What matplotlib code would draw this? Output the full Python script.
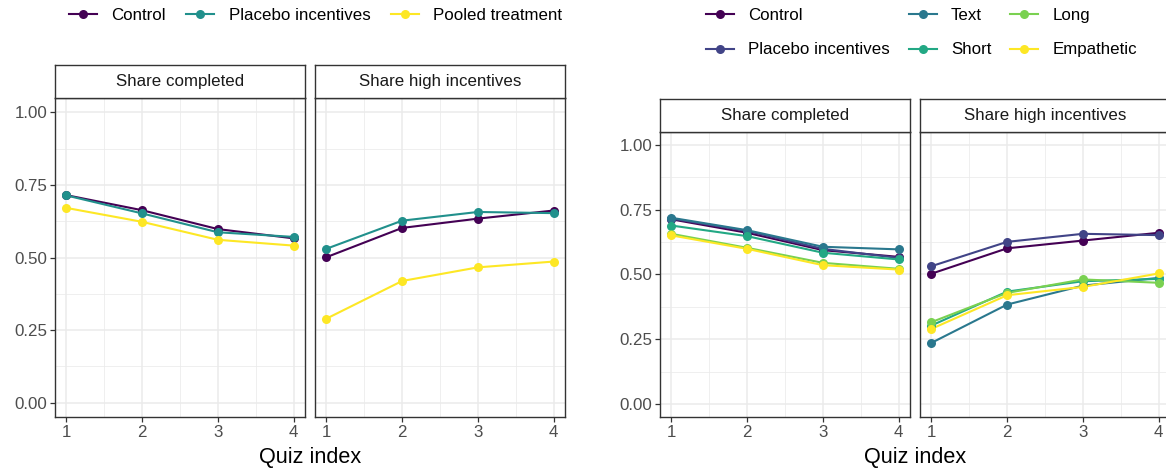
import matplotlib
matplotlib.use("Agg")
import matplotlib.pyplot as plt
from matplotlib.lines import Line2D
import numpy as np

plt.rcParams['font.family'] = ['Liberation Sans', 'DejaVu Sans']

# quiz index on the x axis
quiz = [1, 2, 3, 4]

# --- pooled treatments (left figure) ---
pooled_groups = ["Control", "Placebo incentives", "Pooled treatment"]
pooled_colors = ["#440154", "#21908C", "#FDE725"]
pooled_completed = [
    [0.715, 0.663, 0.598, 0.566],
    [0.714, 0.652, 0.587, 0.571],
    [0.671, 0.623, 0.561, 0.541],
]
pooled_high = [
    [0.501, 0.602, 0.634, 0.662],
    [0.530, 0.627, 0.657, 0.653],
    [0.289, 0.419, 0.466, 0.486],
]

# --- separate treatments (right figure) ---
arm_groups = ["Control", "Placebo incentives", "Text", "Short", "Long", "Empathetic"]
arm_colors = ["#440154", "#414487", "#2A788E", "#22A884", "#7AD151", "#FDE725"]
arm_completed = [
    [0.713, 0.661, 0.594, 0.568],
    [0.716, 0.668, 0.599, 0.564],
    [0.719, 0.671, 0.607, 0.597],
    [0.689, 0.648, 0.584, 0.558],
    [0.657, 0.603, 0.545, 0.522],
    [0.651, 0.599, 0.536, 0.519],
]
arm_high = [
    [0.503, 0.601, 0.631, 0.661],
    [0.532, 0.626, 0.657, 0.652],
    [0.236, 0.384, 0.457, 0.487],
    [0.303, 0.434, 0.474, 0.483],
    [0.316, 0.429, 0.481, 0.468],
    [0.290, 0.420, 0.452, 0.504],
]

strip_titles = ["Share completed", "Share high incentives"]
yticks = [0.0, 0.25, 0.5, 0.75, 1.0]
ytick_labels = ["0.00", "0.25", "0.50", "0.75", "1.00"]

W, H = 1166, 473
fig = plt.figure(figsize=(W / 100, H / 100), dpi=100)

SMALL = 12.2
BIG = 15.6
EDGE = "#333333"


def px_axes(x0, y0, x1, y1):
    return fig.add_axes([x0 / W, 1 - y1 / H, (x1 - x0) / W, (y1 - y0) / H])


def draw_panel(ax, series, colors, show_y):
    ax.set_facecolor("white")
    for vals, col in zip(series, colors):
        ax.plot(quiz, vals, color=col, lw=1.5, zorder=3)
    for vals, col in zip(series, colors):
        ax.plot(quiz, vals, "o", color=col, ms=6.5, zorder=4, mec="none")
    ax.set_xlim(0.85, 4.15)
    ax.set_ylim(-0.05, 1.05)
    ax.set_xticks(quiz)
    ax.set_xticks([1.5, 2.5, 3.5], minor=True)
    ax.set_yticks(yticks)
    ax.set_yticks([0.125, 0.375, 0.625, 0.875], minor=True)
    ax.grid(which="major", color="#EBEBEB", lw=1.1, zorder=0)
    ax.grid(which="minor", color="#EBEBEB", lw=0.55, zorder=0)
    ax.tick_params(which="minor", length=0)
    ax.tick_params(which="major", length=3.5, width=0.9, color=EDGE,
                   labelsize=SMALL, labelcolor="#4D4D4D", pad=2)
    if show_y:
        ax.set_yticklabels(ytick_labels)
    else:
        ax.tick_params(axis="y", which="major", length=0, labelleft=False)
    for sp in ax.spines.values():
        sp.set_color(EDGE)
        sp.set_linewidth(1.0)


def draw_strip(x0, y0, x1, y1, title):
    s = px_axes(x0, y0, x1, y1)
    s.set_xticks([])
    s.set_yticks([])
    s.set_facecolor("white")
    for sp in s.spines.values():
        sp.set_color(EDGE)
        sp.set_linewidth(1.0)
    s.text(0.5, 0.5, title, ha="center", va="center", fontsize=SMALL,
           color="#1A1A1A", transform=s.transAxes)


def draw_facets(left_x, strip_top, strip_bot, panel_bot, data_sets, colors):
    width = 250
    gap = 10
    for i, (series, title) in enumerate(zip(data_sets, strip_titles)):
        x0 = left_x + i * (width + gap)
        ax = px_axes(x0, strip_bot, x0 + width, panel_bot)
        draw_panel(ax, series, colors, show_y=(i == 0))
        draw_strip(x0, strip_top, x0 + width, strip_bot, title)
    mid = left_x + width + gap / 2
    fig.text(mid / W, 1 - 457 / H, "Quiz index", ha="center", va="center",
             fontsize=BIG, color="black")


# left figure: pooled treatment
draw_facets(55, 65, 98, 417, [pooled_completed, pooled_high], pooled_colors)
# right figure: separate treatment arms
draw_facets(660, 99, 132, 417, [arm_completed, arm_high], arm_colors)


def make_handles(colors):
    return [Line2D([0], [0], color=c, lw=1.5, marker="o", ms=6.5, mec="none")
            for c in colors]


leg_kw = dict(frameon=False, fontsize=SMALL, handlelength=1.65,
              handletextpad=0.85, borderaxespad=0, borderpad=0)

fig.legend(make_handles(pooled_colors), pooled_groups, loc="center left",
           bbox_to_anchor=(69 / W, 1 - 15 / H), ncol=3, columnspacing=1.2,
           **leg_kw)
fig.legend(make_handles(arm_colors), arm_groups, loc="upper left",
           bbox_to_anchor=(706 / W, 1 - 8 / H), ncol=3, columnspacing=1.1,
           labelspacing=1.15, **leg_kw)

fig.savefig("out.png", dpi=100, facecolor="white")
